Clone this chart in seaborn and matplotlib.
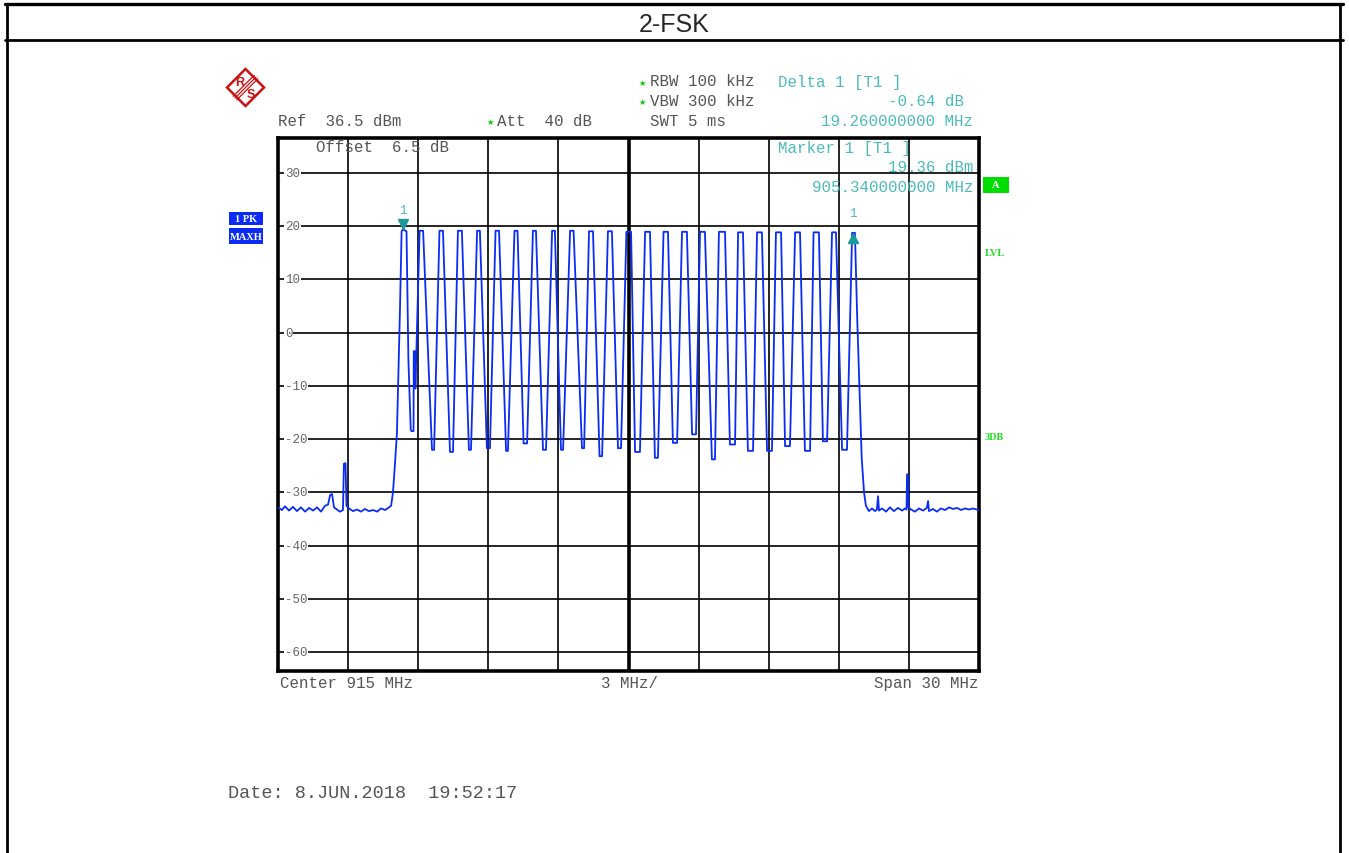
import matplotlib
matplotlib.use("Agg")
import matplotlib.pyplot as plt
import matplotlib.transforms as mtransforms
from matplotlib.patches import Polygon, Rectangle
from matplotlib.lines import Line2D
import pandas as pd
import seaborn as sns

# === Trace data (MHz, dBm) ===
left_floor_freq = [900.00, 900.17, 900.30, 900.47, 900.64, 900.81, 900.98, 901.16, 901.33, 901.50,
                   901.67, 901.84, 902.01, 902.14, 902.23, 902.31, 902.40, 902.52, 902.65, 902.78,
                   902.82, 902.89, 902.93, 903.04, 903.21, 903.38, 903.55, 903.72, 903.89, 904.07,
                   904.24, 904.41, 904.58, 904.75, 904.84, 904.92]
left_floor_level = [-32.8, -33.3, -32.6, -33.4, -32.7, -33.5, -32.8, -33.6, -32.9, -33.4,
                    -32.8, -33.6, -32.5, -32.3, -30.5, -30.3, -32.8, -33.2, -33.6, -33.3,
                    -24.6, -24.5, -32.5, -33.0, -33.5, -33.2, -33.6, -33.1, -33.5, -33.3,
                    -33.6, -33.0, -33.3, -32.8, -32.5, -30.0]

band_freq = [905.01, 905.09, 905.22, 905.29, 905.34, 905.50, 905.58, 905.68, 905.71, 905.80,
             905.81, 905.86, 905.88,
             906.06, 906.21, 906.59, 906.68, 906.91, 907.06, 907.36, 907.49, 907.70, 907.87,
             908.17, 908.26, 908.52, 908.64, 908.94, 909.07, 909.31, 909.46, 909.76, 909.84,
             910.12, 910.25, 910.51, 910.66, 910.91, 911.04, 911.34, 911.47, 911.73, 911.85,
             912.11, 912.20, 912.50, 912.65, 913.01, 913.10, 913.31, 913.48, 913.76, 913.87,
             914.12, 914.29, 914.55, 914.68, 914.91, 915.11, 915.28, 915.49, 915.71, 915.92,
             916.13, 916.26, 916.50, 916.69, 916.90, 917.08, 917.29, 917.50, 917.72, 917.89,
             918.06, 918.27, 918.57, 918.70, 918.87, 919.13, 919.34, 919.56, 919.69, 919.90,
             920.11, 920.33, 920.50, 920.71, 920.93, 921.14, 921.31, 921.53, 921.70, 921.91,
             922.13, 922.34, 922.55, 922.77, 922.92, 923.15, 923.32, 923.50, 923.71, 923.88,
             924.14, 924.35, 924.57, 924.60, 924.69, 924.79, 924.98, 925.08, 925.16]
band_level = [-24.4, -18.8, 4.3, 19.0, 19.36, 19.0, -5.0, -18.2, -18.5, -18.5,
              -3.5, -3.5, -10.5,
              19.1, 19.1, -22.0, -22.0, 19.1, 19.1, -22.4, -22.4, 19.1, 19.1,
              -22.0, -22.0, 19.1, 19.1, -21.7, -21.7, 19.1, 19.1, -22.2, -22.2,
              19.1, 19.1, -20.8, -20.8, 19.1, 19.1, -22.0, -22.0, 19.1, 19.1,
              -22.0, -22.0, 19.1, 19.1, -21.7, -21.7, 19.0, 19.0, -23.2, -23.2,
              19.0, 19.0, -21.7, -21.7, 18.9, 18.9, -22.4, -22.4, 18.9, 18.9,
              -23.5, -23.5, 18.9, 18.9, -20.7, -20.7, 18.9, 18.9, -19.1, -19.1,
              18.9, 18.9, -23.8, -23.8, 18.9, 18.9, -21.0, -21.0, 18.8, 18.8,
              -22.2, -22.2, 18.8, 18.8, -22.2, -22.2, 18.8, 18.8, -21.3, -21.3,
              18.8, 18.8, -22.2, -22.2, 18.8, 18.8, -20.4, -20.4, 18.8, 18.8,
              -22.0, -22.0, 18.7, 18.72, 18.7, 2.4, -23.5, -30.0, -32.5]

right_floor_freq = [925.29, 925.42, 925.55, 925.63, 925.68, 925.72, 925.85, 926.02, 926.19, 926.36,
                    926.53, 926.71, 926.83, 926.90, 926.92, 926.96, 926.98, 927.09, 927.26, 927.43,
                    927.60, 927.77, 927.82, 927.86, 928.03, 928.20, 928.37, 928.55, 928.72, 928.89,
                    929.06, 929.23, 929.40, 929.57, 929.74, 929.91, 930.00]
right_floor_level = [-33.5, -33.0, -33.5, -33.2, -30.7, -33.4, -33.0, -33.6, -32.8, -33.5,
                     -32.9, -33.4, -33.0, -33.2, -26.6, -26.6, -32.8, -33.2, -33.6, -33.0,
                     -33.4, -32.9, -31.6, -33.5, -33.1, -33.6, -33.0, -33.3, -32.8, -33.1,
                     -32.9, -33.3, -33.0, -33.2, -33.0, -33.2, -33.3]

# markers: M1 and delta marker D1
marker_freq = [905.34, 924.60]
marker_level = [19.36, 18.72]

level_ticks = [30, 20, 10, 0, -10, -20, -30, -40, -50, -60]
freq_grid = [903, 906, 909, 912, 915, 918, 921, 924, 927]

trace_df = pd.DataFrame({
    "freq": left_floor_freq + band_freq + right_floor_freq,
    "level": left_floor_level + band_level + right_floor_level,
})

GRAY = "#555555"
TEAL = "#4dbaba"
GREEN = "#00cc00"
BLUE = "#0a2cf5"

sns.set_style("white")
plt.rcParams["font.family"] = ["Liberation Mono", "DejaVu Sans Mono"]

W, H = 1349, 854
fig = plt.figure(figsize=(W / 100, H / 100), dpi=100)
# pixel coords measured from the top-left corner
pix = mtransforms.Affine2D().scale(1 / W, -1 / H).translate(0, 1) + fig.transFigure

# === Outer frame and title band ===
for xs, ys, lw in [([5, 1343], [5, 5], 2.4), ([5, 1343], [41, 41], 2.0),
                   ([7, 7], [5, 854], 2.0), ([1340, 1340], [5, 854], 2.0)]:
    fig.add_artist(Line2D(xs, ys, color="black", lw=lw, transform=pix))
fig.text(674, 25, "2-FSK", transform=pix, ha="center", va="center",
         fontsize=18, family=["Liberation Sans", "DejaVu Sans"])

# === Spectrum axes ===
ax = fig.add_axes([278 / W, 1 - 672 / H, (979 - 278) / W, (672 - 139) / H])
sns.lineplot(data=trace_df, x="freq", y="level", sort=False, estimator=None,
             color=BLUE, lw=1.3, ax=ax, zorder=4)
ax.set_xlim(900, 930)
ax.set_ylim(-63.5, 36.5)
ax.set_xticks(freq_grid)
ax.set_yticks(level_ticks)
ax.grid(True, color="black", lw=1.2)
ax.axvline(915, color="black", lw=2.6, zorder=3)
ax.tick_params(length=0, labelbottom=False, labelleft=False)
ax.set_xlabel("")
ax.set_ylabel("")
for sp in ax.spines.values():
    sp.set_color("black")
    sp.set_linewidth(2.6)

for lv in level_ticks:
    ax.annotate(str(lv), xy=(0, lv), xycoords=("axes fraction", "data"),
                xytext=(7, 0), textcoords="offset pixels", ha="left", va="center",
                fontsize=9, color="#666666",
                bbox=dict(facecolor="white", edgecolor="none", pad=0.6), zorder=2)

# marker symbols
down = mtransforms.offset_copy(ax.transData, fig=fig, x=0, y=5, units="dots")
up = mtransforms.offset_copy(ax.transData, fig=fig, x=0, y=-5, units="dots")
ax.plot(marker_freq[0], marker_level[0], marker="v", ms=7, color="#1a9a9a",
        transform=down, zorder=5)
ax.plot(marker_freq[1], marker_level[1], marker="^", ms=7, color="#1a9a9a",
        transform=up, zorder=5)
for f, lv, dy in [(marker_freq[0], marker_level[0], 19), (marker_freq[1], marker_level[1], 20)]:
    ax.annotate("1", xy=(f, lv), xytext=(0, dy), textcoords="offset pixels",
                ha="center", va="center", fontsize=9, color=TEAL)

# === Instrument texts ===
def txt(s, x, y, color=GRAY, ha="left", size=11.3, **kw):
    fig.text(x, y, s, transform=pix, ha=ha, va="center", color=color, fontsize=size, **kw)

txt("Ref  36.5 dBm", 278, 121)
txt("Att  40 dB", 497, 121)
txt("RBW 100 kHz", 650, 82)
txt("VBW 300 kHz", 650, 101)
txt("SWT 5 ms", 650, 121)
for sx, sy in [(642, 83), (642, 102), (490, 122)]:
    txt("\u2605", sx, sy, color=GREEN, ha="center", size=6, family=["DejaVu Sans"])
txt("Delta 1 [T1 ]", 778, 82, color=TEAL)
txt("-0.64 dB", 964, 101, color=TEAL, ha="right")
txt("19.260000000 MHz", 973, 121, color=TEAL, ha="right")
txt("Offset  6.5 dB", 316, 148)
txt("Marker 1 [T1 ]", 778, 148, color=TEAL)
txt("19.36 dBm", 973, 168, color=TEAL, ha="right")
txt("905.340000000 MHz", 973, 188, color=TEAL, ha="right")
txt("Center 915 MHz", 280, 684)
txt("3 MHz/", 601, 684)
txt("Span 30 MHz", 978, 684, ha="right")
txt("Date: 8.JUN.2018  19:52:17", 228, 794, size=13.3)

# side status boxes
for x0, y0, w, h, s, col in [(229, 213, 34, 13, "1 PK", BLUE), (229, 229, 34, 16, "MAXH", BLUE),
                             (983, 178, 26, 16, "A", "#00dd00")]:
    fig.add_artist(Rectangle((x0, y0), w, h, transform=pix, facecolor=col,
                             edgecolor="none"))
    txt(s, x0 + w / 2, y0 + h / 2, color="white", ha="center", size=7.5, weight="bold",
        family=["Liberation Serif", "DejaVu Serif"])
txt("LVL", 985, 253, color="#22dd22", size=7.5, weight="bold",
    family=["Liberation Serif", "DejaVu Serif"])
txt("3DB", 985, 438, color="#22dd22", size=7.5, weight="bold",
    family=["Liberation Serif", "DejaVu Serif"])

# R&S logo
RED = "#cc1111"
fig.add_artist(Polygon([(245.5, 70), (264, 88.5), (245.5, 107), (227, 88.5)], closed=True,
                       transform=pix, facecolor="white", edgecolor=RED, lw=1.8))
for d in (-1.8, 0, 1.8):
    fig.add_artist(Line2D([256 + d, 235 + d], [78 + d, 99 + d], color=RED, lw=0.9,
                          transform=pix))
txt("R", 240, 83, color=RED, ha="center", size=9, weight="bold",
    family=["Liberation Sans", "DejaVu Sans"])
txt("S", 251, 95, color=RED, ha="center", size=9, weight="bold",
    family=["Liberation Sans", "DejaVu Sans"])

fig.savefig("out.png", dpi=100)
plt.close(fig)
